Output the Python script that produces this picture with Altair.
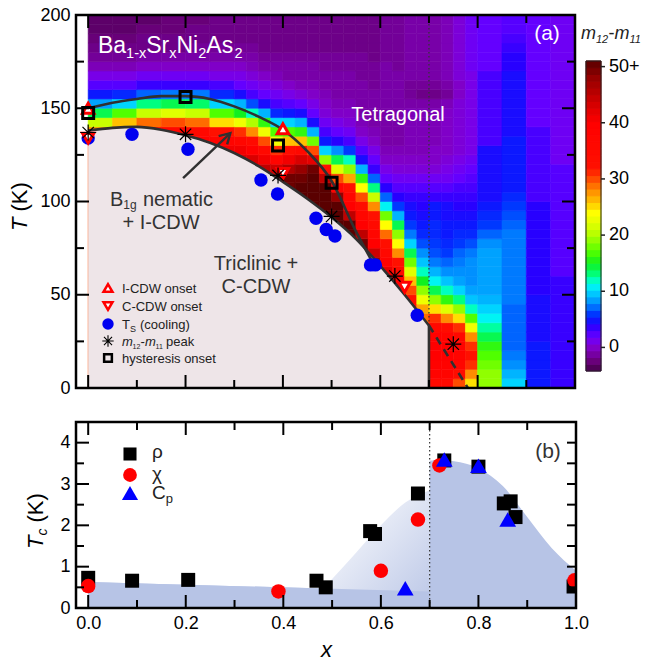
import altair as alt
import pandas as pd

FONT = "Liberation Sans"
ONE = pd.DataFrame({"k": [0]})

# ---------------- panel (a): m12-m11 map ----------------
heat_x_edges = [0.00, 0.05, 0.10, 0.15, 0.20, 0.25, 0.30,
                0.325, 0.35, 0.375, 0.40, 0.425, 0.45, 0.475, 0.50, 0.525, 0.55,
                0.575, 0.60, 0.625, 0.65, 0.675, 0.70, 0.725, 0.75, 0.775, 0.80,
                0.85, 0.90, 0.95, 1.00]
heat_t_edges = list(range(0, 205, 5))
# one list per x column, values from T=0-5 (first) to T=195-200 (last)
heat_cols = [
    [30] * 27 + [28, 21, 14, 8.5, 5, 2.5, 1, -0.5, -1.5, -2, -2.5, -3, -3],
    [32] * 28 + [26, 17, 10, 5.5, 2.5, 1, -0.5, -1.5, -2, -2.5, -3, -3],
    [36] * 27 + [36, 29, 21, 13, 7, 3.5, 1.5, 0, -1, -2, -2, -2.5, -3],
    [38] * 27 + [37, 30, 22, 14, 7.5, 3.5, 1.5, 0, -1, -2, -2, -2.5, -2.5],
    [40] * 26 + [39, 36, 29, 21, 13.5, 7.5, 3.5, 1.5, 0, -1, -1.5, -2, -2, -2.5],
    [42] * 25 + [41, 38, 32, 25, 17, 10, 5.5, 3, 1, 0, -1, -1.5, -2, -2, -2],
    [43] * 25 + [41, 37, 31, 23, 15, 9, 4.5, 2, 1, 0, -1, -1.5, -2, -2, -2],
    [44] * 24 + [43, 40, 35, 28, 20, 12, 6.5, 3, 1.5, 0.5, -0.5, -1, -1.5, -2, -2, -2],
    [46] * 23 + [45, 41, 36, 30, 23, 16, 9, 4.5, 2, 1, 0, -1, -1.5, -2, -2, -2, -2],
    [48] * 22 + [47, 44, 38, 31, 23, 17, 10, 5.5, 3, 1.5, 0.5, -0.5, -1, -1.5, -2, -2, -2, -2],
    [50] * 21 + [50, 50, 46, 41, 34, 26, 17, 10, 5, 2.5, 1, 0, -1, -1, -1.5, -2, -2, -2, -2],
    [51] * 20 + [51, 51, 50, 48, 43, 36, 26, 16, 9, 4.5, 2, 0.5, -0.5, -1, -1, -1.5, -2, -2, -2, -2],
    [51] * 19 + [51, 51, 51, 51, 50, 42, 30, 18, 9, 4.5, 2, 1, 0, -0.5, -1, -1, -1.5, -2, -2, -2, -2],
    [51] * 18 + [51, 51, 51, 51, 45, 32, 19, 10, 5, 3, 1.5, 0.5, 0, -0.5, -1, -1, -1.5, -1.5, -2, -2,
                 -2, -2],
    [51] * 17 + [51, 51, 51, 48, 38, 30, 22, 14, 8, 4, 2, 1, 0, -0.5, -1, -1, -1, -1.5, -1.5, -2,
                 -2, -2, -2],
    [51] * 16 + [51, 51, 45, 40, 37, 33, 27, 19, 12, 6, 3, 1.5, 0.5, 0, -0.5, -1, -1, -1, -1.5, -1.5,
                 -2, -2, -2, -2],
    [50] * 15 + [50, 45, 40, 37, 34, 30, 24, 16, 9, 4.5, 2.5, 1, 0, -0.5, -1, -1, -1, -1, -1.5, -1.5,
                 -1.5, -2, -2, -2, -2],
    [48] * 13 + [48, 44, 40, 37, 35, 32, 28, 21, 13, 7, 3.5, 2, 1, 0, -0.5, -1, -1, -1, -1, -1.5,
                 -1.5, -1.5, -2, -2, -2, -2, -2],
    [42] * 12 + [42, 39, 36, 33, 29, 24, 18, 11, 7, 4, 2, 1, 0, -0.5, -1, -1, -1, -1, -1, -1,
                 -1, -1, -1, -1.5, -1.5, -1.5, -1.5, -1.5],
    [40] * 10 + [40, 38, 35, 32, 28, 24, 19, 14, 9, 6, 4, 2.5, 1.5, 0.5, 0, -0.5, -1, -1, -1, -1,
                 -1, -1, -1, -1, -1.5, -1.5, -1.5, -1.5, -1.5, -1.5],
    [33] * 9 + [33, 30, 26, 22, 18, 14, 10, 7.5, 6, 5, 4.5, 3.5, 2.5, 1.5, 0.5, 0, -0.5, -0.5, -0.5, -0.5,
                -0.5, -1, -1.5, -1.5, -1, -1, -1, -1, -1, -1, -1],
    [29] * 7 + [29, 27, 23, 19, 15, 12, 9.5, 8, 6.5, 5.5, 5, 4.5, 4, 3.5, 2.5, 1.5, 0.5, 0, -0.5, -0.5,
                -0.5, -0.5, -0.5, -1, -2, -1.5, -1, -1, -1, -1, -1, -1, -1],
    [35, 38, 39, 40, 40, 39, 36, 31, 25, 19, 14, 11, 9, 7.5, 6.5, 6, 5.5, 5.5, 5, 5,
     3.5, 2.5, 1.5, 0.5, 0, 0, -0.5, -0.5, -0.5, -0.5, -1, -2, -1.5, -1, -1, -1, -1, -1, -1, -1],
    [35, 38, 39, 40, 40, 38, 34, 28, 22, 16, 12, 9.5, 8, 7, 6, 5.5, 5, 5, 4.5, 4.5,
     3.5, 2.5, 1.5, 1, 0.5, 0, 0, 0, 0, 0, -0.5, -1.5, -1, -0.5, -0.5, -0.5, -0.5, -0.5, -0.5, -0.5],
    [30, 34, 37, 38, 38, 36, 31, 25, 19, 13, 10, 8.5, 8, 7.5, 7, 6, 5.5, 5, 4.5, 4,
     3.5, 3, 2, 1.5, 1, 0.5, 0.5, 0.5, 0.5, 0.5, 0.5, 0, 0, 0.5, 0.5, 0.5, 0.5, 0.5, 0.5, 0.5],
    [25, 28, 31, 32, 31, 28, 23, 17, 12, 9.5, 8.5, 8, 8, 8, 7.5, 6.5, 5.5, 5, 4.5, 4,
     3.5, 3, 2.5, 2, 1.5, 1, 1, 1, 1, 1, 1, 1, 1, 1, 1.5, 1.5, 1.5, 1.5, 1.5, 1.5],
    [19, 19, 18, 17, 16, 14, 12.5, 11, 10, 9, 8.5, 8.5, 8.5, 8.5, 8.5, 8, 7, 6, 5.5, 5,
     4.5, 4.5, 4.5, 4.5, 4.5, 4.5, 3, 3, 3, 3, 3, 3, 3, 3, 2, 2, 2, 2, 2, 2],
    [10, 9, 8, 7.5, 7, 7, 7, 7, 7, 7.5, 7.5, 7.5, 7.5, 7.5, 7.5, 7.5, 7.5, 7, 6.5, 6,
     5.5, 5, 5, 5, 5, 5, 5, 4.5, 4.5, 4.5, 4.5, 4.5, 4.5, 4.5, 4, 4, 3.5, 3, 2.5, 2.5],
    [5] * 5 + [4.5] * 5 + [4] * 10 + [3] * 8 + [2] * 12,
    [3.5] * 12 + [2.5] * 12 + [1.5] * 16,
]

lower_x = [0.0, 0.05, 0.1, 0.15, 0.2, 0.25, 0.3, 0.35, 0.4, 0.45, 0.5, 0.55, 0.6, 0.65, 0.7]
lower_t = [138, 139.5, 140, 138.5, 135.5, 131.5, 126, 119, 110.5, 101.5, 91.5, 80, 65.5, 50, 33.5]
upper_x = [0.0, 0.05, 0.1, 0.15, 0.2, 0.25, 0.3, 0.35, 0.4, 0.45, 0.5, 0.55, 0.585]
upper_t = [150, 153, 155, 156.5, 156.5, 155, 151, 145.5, 138.5, 127, 111, 84, 67]
dash_x = [0.70, 0.78]
dash_t = [33.5, 0.0]
arrow_x = [0.195, 0.292]
arrow_t = [112.5, 136.7]
head_x = [0.268, 0.292, 0.2855]
head_t = [135.1, 136.7, 130.6]

icdw_x = [0.0, 0.40]
icdw_t = [150, 139]
ccdw_x = [0.0, 0.40, 0.65]
ccdw_t = [134, 115, 54]
ts_x = [0.0, 0.09, 0.205, 0.355, 0.389, 0.468, 0.489, 0.507, 0.580, 0.590, 0.676]
ts_t = [134, 136, 128, 111.5, 104, 91, 85, 81.5, 66, 66, 39]
peak_x = [0.0, 0.20, 0.39, 0.50, 0.63, 0.75]
peak_t = [137, 136, 114, 92, 60, 23.5]
hyst_x = [0.0, 0.20, 0.39, 0.50]
hyst_t = [147.5, 156, 130, 110]

cbar_ticks = [0, 10, 20, 30, 40, 50]
cbar_labels = ["0", "10", "20", "30", "40", "50+"]
cbar_min, cbar_max = -4.2, 51.0

# ---------------- panel (b): Tc ----------------
rho_x = [0.0, 0.09, 0.205, 0.468, 0.487, 0.578, 0.588, 0.676, 0.73, 0.80, 0.852, 0.866, 0.876, 0.995]
rho_t = [0.73, 0.66, 0.68, 0.66, 0.50, 1.86, 1.79, 2.77, 3.57, 3.42, 2.53, 2.58, 2.20, 0.52]
chi_x = [0.0, 0.39, 0.60, 0.676, 0.72, 0.997]
chi_t = [0.53, 0.40, 0.90, 2.14, 3.45, 0.67]
cp_x = [0.65, 0.73, 0.80, 0.86]
cp_t = [0.48, 3.59, 3.44, 2.14]
grad_x = [0.48, 0.50, 0.55, 0.60, 0.65, 0.70]
grad_t = [0.45, 0.70, 1.35, 2.00, 2.55, 2.85]
dome_x = [0.70, 0.72, 0.75, 0.80, 0.85, 0.90, 0.95, 1.00]
dome_t = [3.56, 3.58, 3.55, 3.38, 2.95, 2.20, 1.45, 0.90]
base_x = [0.0, 0.70]
base_t = [0.63, 0.40]

x_ticks_major = [0.0, 0.2, 0.4, 0.6, 0.8, 1.0]
x_ticks_minor = [0.1, 0.3, 0.5, 0.7, 0.9]
ya_major = [0, 50, 100, 150, 200]
ya_minor = [25, 75, 125, 175]
yb_major = [0, 1, 2, 3, 4]
yb_minor = [0.5, 1.5, 2.5, 3.5]

# ---------------- scales / axes ----------------
WA, HA = 499, 373
WB, HB = 500, 186
xsa = alt.Scale(domain=[-0.025, 1.0], nice=False, zero=False)
ysa = alt.Scale(domain=[0, 200], nice=False, zero=False)
xsb = alt.Scale(domain=[-0.025, 1.0], nice=False, zero=False)
ysb = alt.Scale(domain=[0, 4.5], nice=False, zero=False)

AX_YA = alt.Axis(values=ya_major, title=None, ticks=False, tickSize=0, domain=False, grid=False,
                 labelFontSize=18, labelPadding=6, labelFont=FONT, labelColor="black",
                 labelFlush=False, zindex=1)
AX_XB = alt.Axis(values=x_ticks_major, format=".1f", title="x", titleFont=FONT, titleFontSize=22,
                 titleFontStyle="italic", titleFontWeight="normal", titleColor="black",
                 titlePadding=7, ticks=False, tickSize=0, domain=False, grid=False,
                 labelFontSize=18, labelPadding=6, labelFont=FONT, labelColor="black",
                 labelFlush=False, zindex=1)
AX_YB = alt.Axis(values=yb_major, title=None, ticks=False, tickSize=0, domain=False, grid=False,
                 labelFontSize=18, labelPadding=6, labelFont=FONT, labelColor="black",
                 labelFlush=False, zindex=1)

STAR = "M-1,0L1,0M0,-1L0,1M-0.71,-0.71L0.71,0.71M-0.71,0.71L0.71,-0.71"

cdom = [-4.2, -3.6, -2.5, -1, 0, 1, 2, 3, 4, 5, 6, 7, 8, 9, 10, 11, 12, 13, 15, 17, 20, 22, 24,
        26, 28, 30, 32, 40, 44, 48, 51]
crng = ["#000000", "#500058", "#680078", "#7800a8", "#8000c8", "#7800e8", "#6400ff", "#4800ff",
        "#2800ff", "#0c18ff", "#0038ff", "#0064ff", "#0090ff", "#00b4ff", "#00d4ff", "#00f4f4",
        "#00ffc0", "#00ff80", "#10f020", "#50ff00", "#b0ff00", "#e0ff00", "#ffff00", "#ffc000",
        "#ff8c00", "#ff4c00", "#ff1000", "#ff0000", "#cc0000", "#960000", "#5a0000"]
CSCALE = alt.Scale(domain=cdom, range=crng, clamp=True, interpolate="rgb")


def enc_a(c):
    return c.encode(x=alt.X("x:Q", scale=xsa, axis=None), y=alt.Y("t:Q", scale=ysa, axis=AX_YA))


def enc_b(c):
    return c.encode(x=alt.X("x:Q", scale=xsb, axis=AX_XB), y=alt.Y("t:Q", scale=ysb, axis=AX_YB))


def tx(s, x, y, size, color="#222222", style="normal", align="left", baseline="alphabetic", angle=0):
    return alt.Chart(ONE).mark_text(text=s, font=FONT, fontSize=size, color=color, fontStyle=style,
                                    align=align, baseline=baseline, angle=angle).encode(
        x=alt.value(x), y=alt.value(y))


def sym(x, y, **mk):
    return alt.Chart(ONE).mark_point(opacity=1, **mk).encode(x=alt.value(x), y=alt.value(y))


def df_xy(xs, ts):
    return pd.DataFrame({"x": xs, "t": ts, "o": list(range(len(xs)))})


def frame(xsc, ysc, W, H, ymaj, ymin, xax, yax, rmaj=13, rmin=8):
    out = []
    for vals, L in ((x_ticks_major, 13), (x_ticks_minor, 8)):
        d = pd.DataFrame({"x": vals})
        b = alt.Chart(d).mark_rule(color="black", strokeWidth=2)
        out.append(b.encode(x=alt.X("x:Q", scale=xsc, axis=xax), y=alt.value(H), y2=alt.value(H - L)))
        out.append(b.encode(x=alt.X("x:Q", scale=xsc, axis=xax), y=alt.value(0), y2=alt.value(L)))
    for vals, L, R in ((ymaj, 13, rmaj), (ymin, 8, rmin)):
        d = pd.DataFrame({"t": vals})
        b = alt.Chart(d).mark_rule(color="black", strokeWidth=2)
        out.append(b.encode(y=alt.Y("t:Q", scale=ysc, axis=yax), x=alt.value(0), x2=alt.value(L)))
        out.append(b.encode(y=alt.Y("t:Q", scale=ysc, axis=yax), x=alt.value(W), x2=alt.value(W - R)))
    out.append(alt.Chart(ONE).mark_rect(fill="transparent", stroke="black", strokeWidth=2.5).encode(
        x=alt.value(0), x2=alt.value(W), y=alt.value(0), y2=alt.value(H)))
    return out


# ---------------- panel (a) layers ----------------
rows = []
for i, col in enumerate(heat_cols):
    for k, v in enumerate(col):
        rows.append({"x": heat_x_edges[i], "x1": heat_x_edges[i + 1],
                     "t": heat_t_edges[k], "t1": heat_t_edges[k + 1], "v": v})
heat_df = pd.DataFrame(rows)

heat = alt.Chart(heat_df).mark_rect(strokeWidth=0.6).encode(
    x=alt.X("x:Q", scale=xsa, axis=None),
    x2="x1:Q",
    y=alt.Y("t:Q", scale=ysa, axis=AX_YA),
    y2="t1:Q",
    color=alt.Color("v:Q", scale=CSCALE, legend=None),
    stroke=alt.Stroke("v:Q", scale=CSCALE, legend=None),
)

# colour bar placed to the right of the map: value -> position on the T axis of the panel
CB_T0 = (HA - 356) / HA * 200   # bottom of bar
CB_T1 = (HA - 46) / HA * 200    # top of bar


def cb_t(v):
    return CB_T0 + (v - cbar_min) * (CB_T1 - CB_T0) / (cbar_max - cbar_min)


n_bands = 46
cb_rows = []
for i in range(n_bands):
    lo = cbar_min + (cbar_max - cbar_min) * i / n_bands
    hi = cbar_min + (cbar_max - cbar_min) * (i + 1) / n_bands
    cb_rows.append({"t": cb_t(lo), "t1": cb_t(hi), "v": (lo + hi) / 2})
cb_df = pd.DataFrame(cb_rows)
cb_lab_df = pd.DataFrame({"t": [cb_t(v) for v in cbar_ticks], "lab": cbar_labels})

cbar_layers = [
    alt.Chart(cb_df).mark_rect().encode(
        x=alt.value(510), x2=alt.value(525),
        y=alt.Y("t:Q", scale=ysa, axis=AX_YA), y2="t1:Q",
        color=alt.Color("v:Q", scale=CSCALE, legend=None),
        stroke=alt.Stroke("v:Q", scale=CSCALE, legend=None)),
    alt.Chart(pd.DataFrame({"t": [cb_t(cbar_min)], "t1": [cb_t(cbar_max)]})).mark_rect(
        fill="transparent", stroke="#222222", strokeWidth=1).encode(
        x=alt.value(510), x2=alt.value(525),
        y=alt.Y("t:Q", scale=ysa, axis=AX_YA), y2="t1:Q"),
    alt.Chart(cb_lab_df).mark_rule(color="#222222", strokeWidth=1.5).encode(
        x=alt.value(525), x2=alt.value(529), y=alt.Y("t:Q", scale=ysa, axis=AX_YA)),
    alt.Chart(cb_lab_df).mark_text(font=FONT, fontSize=18, color="black", align="left",
                                   baseline="middle").encode(
        x=alt.value(533), y=alt.Y("t:Q", scale=ysa, axis=AX_YA), text="lab:N"),
    tx("m", 505, 24, 18, style="italic"), tx("12", 520, 28, 11, style="italic"),
    tx("-", 532.5, 24, 18), tx("m", 538.5, 24, 18, style="italic"),
    tx("11", 553.5, 28, 11, style="italic"),
]

CURVE = "#303030"
a_layers = [
    heat,
    enc_a(alt.Chart(df_xy(lower_x, lower_t)).mark_area(color="#eee5e8", interpolate="monotone")),
    enc_a(alt.Chart(pd.DataFrame({"x": [0.7], "t": [33.5], "t2": [200]})).mark_rule(
        color="#333333", strokeWidth=1.2, strokeDash=[1.5, 2.5])).encode(y2="t2:Q"),
    enc_a(alt.Chart(df_xy(lower_x, lower_t)).mark_line(color=CURVE, strokeWidth=2.6, interpolate="monotone")),
    enc_a(alt.Chart(df_xy(upper_x, upper_t)).mark_line(color=CURVE, strokeWidth=2.6, interpolate="monotone")),
    enc_a(alt.Chart(pd.DataFrame({"x": [0.7], "t": [0.0], "t2": [33.5]})).mark_rule(
        color=CURVE, strokeWidth=2.6)).encode(y2="t2:Q"),
    enc_a(alt.Chart(df_xy(dash_x, dash_t)).mark_line(color=CURVE, strokeWidth=2.6, strokeDash=[8, 6])),
    enc_a(alt.Chart(df_xy(arrow_x, arrow_t)).mark_line(color=CURVE, strokeWidth=2.4)),
    enc_a(alt.Chart(df_xy(head_x, head_t)).mark_line(color=CURVE, strokeWidth=2.4)).encode(order="o:Q"),
    enc_a(alt.Chart(df_xy(ts_x, ts_t)).mark_point(opacity=1, shape="circle", size=180, filled=True,
                                                 color="#0000f0")),
    enc_a(alt.Chart(df_xy(icdw_x, icdw_t)).mark_point(opacity=1, shape="triangle-up", size=130,
                                                     filled=True, fill="white", stroke="#ff0000",
                                                     strokeWidth=3)),
    enc_a(alt.Chart(df_xy(ccdw_x, ccdw_t)).mark_point(opacity=1, shape="triangle-down", size=130,
                                                     filled=True, fill="white", stroke="#ff0000",
                                                     strokeWidth=3)),
    enc_a(alt.Chart(df_xy(hyst_x, hyst_t)).mark_point(opacity=1, shape="square", size=120,
                                                     filled=False, fill="transparent",
                                                     stroke="black", strokeWidth=3)),
    enc_a(alt.Chart(df_xy(peak_x, peak_t)).mark_point(opacity=1, shape=STAR, size=256, filled=False,
                                                     stroke="black", strokeWidth=1.2)),
]

W_ = "white"
a_layers += [
    tx("Ba", 22, 38, 23, W_), tx("1-x", 50.1, 43, 14.5, W_), tx("Sr", 70.2, 38, 23, W_),
    tx("x", 93.2, 43, 14.5, W_), tx("Ni", 100.5, 38, 23, W_), tx("2", 122.2, 43, 14.5, W_),
    tx("As", 130.3, 38, 23, W_), tx("2", 158.4, 43, 14.5, W_),
    tx("Tetragonal", 322, 106, 20, W_, align="center"),
    tx("(a)", 471, 19, 21, W_, align="center", baseline="middle"),
    tx("B", 34, 191, 20, "#333333"), tx("1g", 47.3, 194, 12, "#333333"),
    tx("nematic", 66.9, 191, 20, "#333333"),
    tx("+ I-CDW", 85, 214, 20, "#333333", align="center"),
    tx("Triclinic +", 180, 255, 20, "#333333", align="center"),
    tx("C-CDW", 180, 278, 20, "#333333", align="center"),
    # legend
    sym(32, 273, shape="triangle-up", size=80, filled=True, fill="white", stroke="#ff0000", strokeWidth=2.5),
    tx("I-CDW onset", 46, 278, 13),
    sym(32, 291, shape="triangle-down", size=80, filled=True, fill="white", stroke="#ff0000", strokeWidth=2.5),
    tx("C-CDW onset", 46, 296, 13),
    sym(32, 309, shape="circle", size=130, filled=True, color="#0000f0"),
    tx("T", 46, 314, 13), tx("S", 53.9, 317, 9), tx("(cooling)", 64, 314, 13),
    sym(32, 326, shape=STAR, size=130, filled=False, stroke="black", strokeWidth=1.1),
    tx("m", 46, 331, 13, style="italic"), tx("12", 56.6, 334, 7),
    tx("-", 64.5, 331, 13), tx("m", 69, 331, 13, style="italic"), tx("11", 79.6, 334, 7),
    tx("peak", 90, 331, 13),
    sym(32, 343, shape="square", size=60, filled=False, fill="transparent", stroke="black", strokeWidth=2.5),
    tx("hysteresis onset", 46, 348, 13),
    # y title
    tx("T", -49.5, 216, 22, "black", style="italic", angle=270),
    tx("(K)", -49.5, 196.5, 22, "black", angle=270),
]
a_layers += frame(xsa, ysa, WA, HA, ya_major, ya_minor, None, AX_YA)
a_layers += cbar_layers

top = alt.layer(*a_layers).properties(width=WA, height=HA)

# ---------------- panel (b) layers ----------------
BLUE = "#b7c4e6"
b_layers = [
    enc_b(alt.Chart(df_xy(base_x, base_t)).mark_area(color=BLUE)),
    enc_b(alt.Chart(df_xy(grad_x, grad_t)).mark_area(
        interpolate="monotone",
        color=alt.LinearGradient(gradient="linear",
                                 stops=[alt.GradientStop(color="#ffffff", offset=0.05),
                                        alt.GradientStop(color="#bfcae8", offset=0.95)],
                                 x1=0, y1=0, x2=1, y2=1))),
    enc_b(alt.Chart(df_xy(base_x, base_t)).mark_area(color=BLUE)),
    enc_b(alt.Chart(df_xy(dome_x, dome_t)).mark_area(color=BLUE, interpolate="monotone")),
    alt.Chart(pd.DataFrame({"x": [0.7]})).mark_rule(
        color="#333333", strokeWidth=1.2, strokeDash=[1.5, 2.5]).encode(
        x=alt.X("x:Q", scale=xsb, axis=AX_XB)),
    enc_b(alt.Chart(df_xy(rho_x, rho_t)).mark_point(opacity=1, shape="square", size=196, filled=True,
                                                   color="black", clip=True)),
    enc_b(alt.Chart(df_xy(chi_x, chi_t)).mark_point(opacity=1, shape="circle", size=210, filled=True,
                                                   color="#ff0000", clip=True)),
    enc_b(alt.Chart(df_xy(cp_x, cp_t)).mark_point(opacity=1, shape="triangle-up", size=280,
                                                 filled=True, color="#0000ff", clip=True)),
    tx("(b)", 472, 30, 21, "#333333", align="center", baseline="middle"),
    sym(54, 32, shape="square", size=170, filled=True, color="black"),
    tx("ρ", 76, 36, 19),
    sym(54, 53, shape="circle", size=190, filled=True, color="#ff0000"),
    tx("χ", 76, 58, 19),
    sym(54, 71, shape="triangle-up", size=260, filled=True, color="#0000ff"),
    tx("C", 76, 77, 19), tx("p", 89.7, 81, 13),
    tx("T", -33, 127, 22, "black", style="italic", angle=270),
    tx("c", -29, 113.6, 14, "black", style="italic", angle=270),
    tx("(K)", -33, 100.5, 22, "black", angle=270),
]
b_layers += frame(xsb, ysb, WB, HB, yb_major, yb_minor, AX_XB, AX_YB, rmaj=9, rmin=9)

bot = alt.layer(*b_layers).properties(width=WB, height=HB)

chart = alt.vconcat(top, bot, spacing=22).properties(
    padding={"left": 8, "top": 5, "right": 0, "bottom": 0}
).configure_view(strokeWidth=0).configure(font=FONT)

chart.save("out.html", embed_options={"renderer": "svg", "actions": False})
